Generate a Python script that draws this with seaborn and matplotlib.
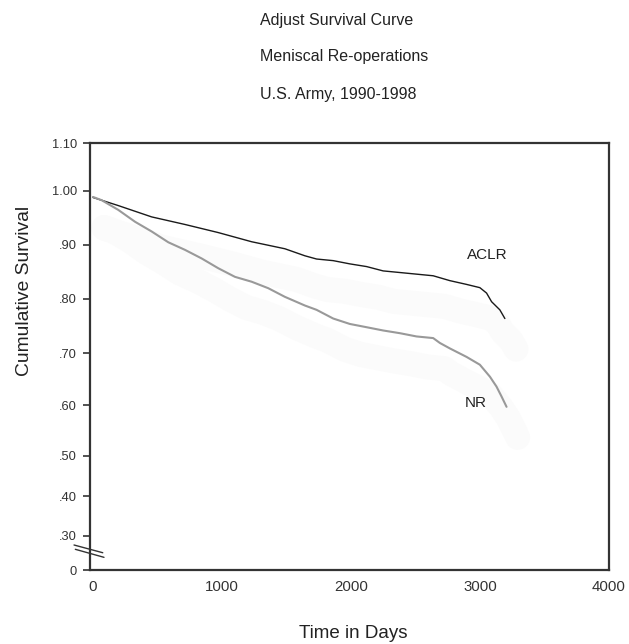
import numpy as np
import pandas as pd
import matplotlib
matplotlib.use('Agg')
import matplotlib.pyplot as plt
import matplotlib.patheffects as pe
import seaborn as sns

sns.set_style('white')
plt.rcParams['font.family'] = ['Liberation Sans', 'DejaVu Sans']

# --- dados ---
aclr_days = [0, 196, 455, 713, 971, 1230, 1488, 1643, 1734, 1863, 1992, 2122, 2250,
             2380, 2509, 2638, 2767, 2897, 3000, 3052, 3091, 3155, 3194]
aclr_surv = [0.988, 0.973, 0.952, 0.938, 0.923, 0.906, 0.893, 0.880, 0.874, 0.871, 0.865,
             0.860, 0.852, 0.849, 0.846, 0.843, 0.834, 0.827, 0.821, 0.811, 0.795, 0.780, 0.764]

nr_days = [0, 67, 196, 326, 455, 584, 713, 843, 971, 1101, 1230, 1359, 1488, 1643, 1734,
           1863, 1992, 2122, 2250, 2380, 2509, 2638, 2690, 2767, 2897, 3000, 3078, 3129,
           3168, 3207]
nr_surv = [0.989, 0.983, 0.965, 0.943, 0.925, 0.905, 0.891, 0.875, 0.857, 0.841, 0.832,
           0.820, 0.804, 0.788, 0.780, 0.764, 0.754, 0.748, 0.742, 0.737, 0.731, 0.728,
           0.719, 0.709, 0.693, 0.678, 0.655, 0.636, 0.617, 0.597]

ytick_vals = [0, 0.30, 0.40, 0.50, 0.60, 0.70, 0.80, 0.90, 1.00, 1.10]
ytick_labels = ['0', '.30', '.40', '.50', '.60', '.70', '.80', '.90', '1.00', '1.10']
# posição relativa de cada marca no eixo (escala quebrada do original)
ytick_pos = [0.0, 0.0797, 0.1734, 0.2672, 0.386, 0.5079, 0.6351, 0.7617, 0.8882, 1.0]
xtick_vals = [0, 1000, 2000, 3000, 4000]

titles = ['Adjust Survival Curve', 'Meniscal Re-operations', 'U.S. Army, 1990-1998']

df = pd.concat([
    pd.DataFrame({'Dias': aclr_days, 'Sobrevida': aclr_surv, 'Grupo': 'ACLR'}),
    pd.DataFrame({'Dias': nr_days, 'Sobrevida': nr_surv, 'Grupo': 'NR'}),
], ignore_index=True)

fig = plt.figure(figsize=(6.29, 6.44), dpi=100)
ax = fig.add_axes([0.1423, 0.1149, 0.8256, 0.6626])

def fwd(v):
    return np.interp(v, ytick_vals, ytick_pos)

def inv(p):
    return np.interp(p, ytick_pos, ytick_vals)

ax.set_yscale('function', functions=(fwd, inv))

sns.lineplot(data=df, x='Dias', y='Sobrevida', hue='Grupo', hue_order=['ACLR', 'NR'],
             palette={'ACLR': '#1a1a1a', 'NR': '#999999'}, estimator=None, sort=False,
             legend=False, ax=ax)
for line, lw in zip(ax.lines, [1.0, 1.5]):
    line.set_linewidth(lw)
    # sombra bem fraca, como no original
    line.set_path_effects([pe.SimpleLineShadow(offset=(8, -22), shadow_color='#fbfbfb',
                                               alpha=1.0, linewidth=18), pe.Normal()])

ax.set_xlim(-27, 4000)
ax.set_ylim(0, 1.10)
ax.set_yticks(ytick_vals)
ax.set_yticklabels(ytick_labels)
ax.set_xticks(xtick_vals)
ax.set_xticklabels([str(v) for v in xtick_vals])
ax.tick_params(axis='y', which='both', left=True, length=5, width=1.2, color='#333333',
               labelsize=9.3, labelcolor='#333333', pad=4)
ax.tick_params(axis='x', bottom=False, length=0, labelsize=10.8, labelcolor='#333333', pad=7)
ax.minorticks_off()
for sp in ax.spines.values():
    sp.set_color('#333333')
    sp.set_linewidth(1.6)

ax.set_xlabel('Time in Days', fontsize=13.5, color='#222222')
ax.set_ylabel('Cumulative Survival', fontsize=13.9, color='#222222')
ax.xaxis.set_label_coords(0.507, -0.128)
ax.yaxis.set_label_coords(-0.108, 0.654)

ax.text(3058, 0.881, 'ACLR', fontsize=11, color='#222222', ha='center', va='center')
ax.text(2965, 0.605, 'NR', fontsize=11, color='#222222', ha='center', va='center')

# marcas de quebra do eixo y
for (x0, y0, x1, y1) in [(-0.0298, 0.0586, 0.0255, 0.0405), (-0.0273, 0.0485, 0.0279, 0.0297)]:
    ax.plot([x0, x1], [y0, y1], transform=ax.transAxes, color='#333333', lw=1.0, clip_on=False)

for i, t in enumerate(titles):
    fig.text(260 / 629, 1 - [20, 57, 95][i] / 644, t, fontsize=11.5, color='#222222',
             ha='left', va='center')

fig.savefig('out.png', dpi=100)
